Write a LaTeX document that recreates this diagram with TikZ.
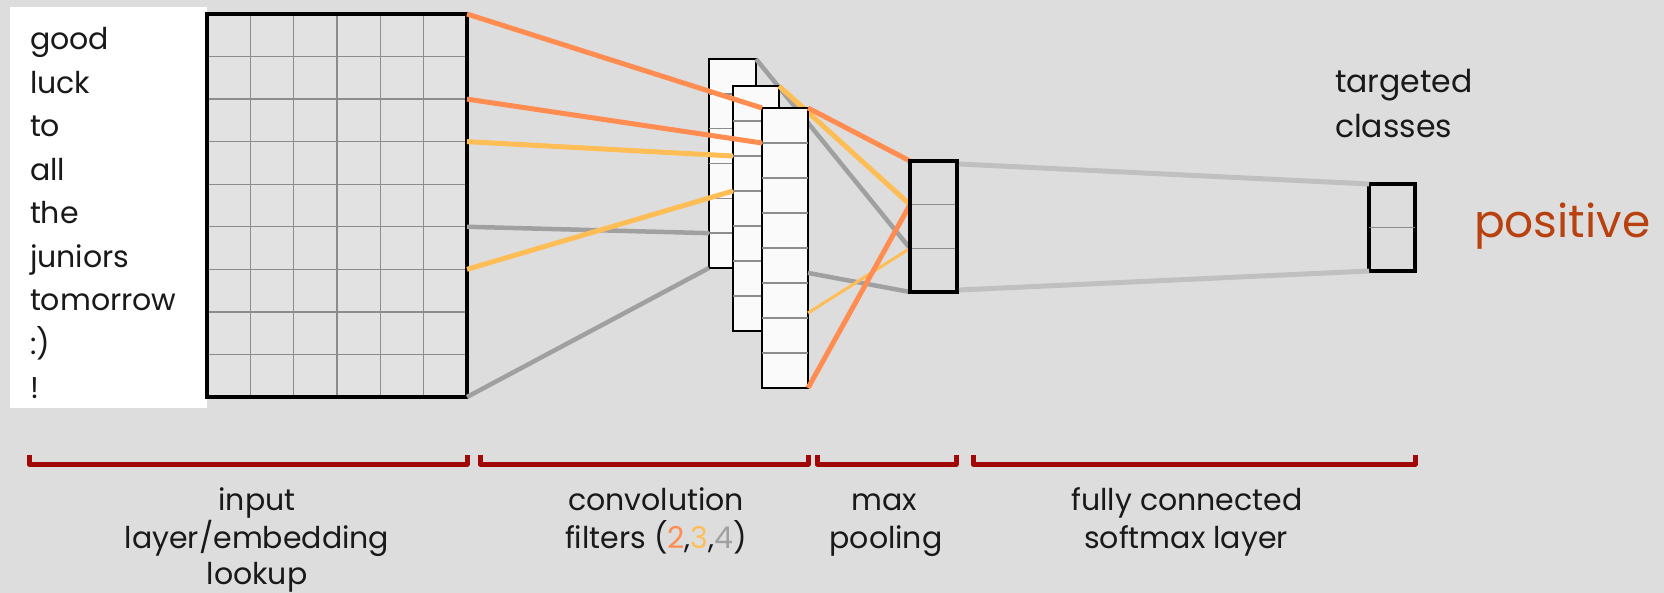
\documentclass[tikz,border=0pt]{standalone}
\usepackage{fontspec}
\setmainfont{Poppins}
\usetikzlibrary{calc}
\definecolor{bgc}{RGB}{221,221,221}
\definecolor{orangeL}{RGB}{255,140,80}
\definecolor{yellowL}{RGB}{255,190,85}
\definecolor{grayL}{RGB}{160,160,160}
\definecolor{grayR}{RGB}{192,192,192}
\definecolor{divc}{RGB}{140,140,140}
\definecolor{brk}{RGB}{160,8,8}
\definecolor{posc}{RGB}{185,65,15}
\begin{document}
\begin{tikzpicture}[x=1pt,y=-1pt,
  txt/.style={inner sep=0pt, outer sep=0pt, font=\fontsize{30}{36}\selectfont, text=black!90},
  word/.style={txt, anchor=base west},
  lbl/.style={txt, anchor=base},
  filt/.style={draw=black, line width=2.6pt, fill=white!98!black, inner sep=0pt, outer sep=0pt, anchor=north west},
  pool/.style={draw=black, line width=3.8pt, inner sep=0pt, outer sep=0pt, anchor=north west},
  div/.style={draw=divc, line width=1.4pt},
  gridl/.style={draw=divc, line width=1.3pt},
  conO/.style={draw=orangeL, line width=5pt},
  conY/.style={draw=yellowL, line width=5pt},
  conYt/.style={draw=yellowL, line width=3pt},
  conG/.style={draw=grayL, line width=4.5pt},
  conR/.style={draw=grayR, line width=5pt},
  brace/.style={draw=brk, line width=5pt, line join=round}
]
\useasboundingbox (0,0) rectangle (1664,593);
\fill[bgc] (0,0) rectangle (1664,593);

% word list
\node[fill=white, inner sep=0pt, outer sep=0pt, minimum width=197pt, minimum height=401pt, anchor=north west] (wordbox) at (10,7) {};
\foreach \w [count=\i from 0] in {good,luck,to,all,the,juniors,tomorrow,{:)},!}
  \node[word] (w\i) at (30,50+43.5*\i) {\w};

% embedding grid
\node[fill=white, fill opacity=0.15, inner sep=0pt, outer sep=0pt, minimum width=260pt, minimum height=383pt, anchor=north west] (grid) at (207,14) {};
\foreach \i in {1,...,5}
  \draw[gridl] ($(grid.north west)!\i/6!(grid.north east)$) -- ($(grid.south west)!\i/6!(grid.south east)$);
\foreach \i in {1,...,8}
  \draw[gridl] ($(grid.north west)!\i/9!(grid.south west)$) -- ($(grid.north east)!\i/9!(grid.south east)$);
\draw[line width=3.5pt] (grid.north west) rectangle (grid.south east);

% back filter
\node[filt, minimum width=47pt, minimum height=209pt] (back) at (709,59) {};
\foreach \i in {1,...,5}
  \draw[div] ($(back.north west)!\i/6!(back.south west)$) -- ($(back.north east)!\i/6!(back.south east)$);
% max pooling node (positions)
\node[pool, minimum width=47pt, minimum height=131pt] (pool) at (910,161) {};
\draw[conG] (back.north east) -- ($(pool.north west)!2/3!(pool.south west)$);

% middle filter
\node[filt, minimum width=46pt, minimum height=245pt] (mid) at (733,86) {};
\foreach \i in {1,...,6}
  \draw[div] ($(mid.north west)!\i/7!(mid.south west)$) -- ($(mid.north east)!\i/7!(mid.south east)$);
\draw[conY] (mid.north east) -- ($(pool.north west)!1/3!(pool.south west)$);

% left connectors
\draw[conG] ($(grid.north east)!5/9!(grid.south east)$) -- ($(back.north west)!5/6!(back.south west)$);
\draw[conG] (grid.south east) -- (back.south west);
\draw[conY] ($(grid.north east)!3/9!(grid.south east)$) -- ($(mid.north west)!2/7!(mid.south west)$);
\draw[conY] ($(grid.north east)!6/9!(grid.south east)$) -- ($(mid.north west)!3/7!(mid.south west)$);

% front filter
\node[filt, minimum width=46pt, minimum height=280pt] (front) at (762,108) {};
\foreach \i in {1,...,7}
  \draw[div] ($(front.north west)!\i/8!(front.south west)$) -- ($(front.north east)!\i/8!(front.south east)$);
\draw[conO] (grid.north east) -- (front.north west);
\draw[conO] ($(grid.north east)!2/9!(grid.south east)$) -- ($(front.north west)!1/8!(front.south west)$);

% right connectors from front filter
\draw[conO] (front.north east) -- (pool.north west);
\draw[conG] ($(front.north east)!0.589!(front.south east)$) -- (pool.south west);
\draw[conYt] ($(front.north east)!0.732!(front.south east)$) -- ($(pool.north west)!2/3!(pool.south west)$);
\draw[conO] (front.south east) -- ($(pool.north west)!1/3!(pool.south west)$);

% max pooling box on top
\foreach \i in {1,2}
  \draw[div] ($(pool.north west)!\i/3!(pool.south west)$) -- ($(pool.north east)!\i/3!(pool.south east)$);
\node[pool, minimum width=47pt, minimum height=131pt] at (910,161) {};

% output
\node[pool, line width=3.4pt, minimum width=46pt, minimum height=87pt] (out) at (1369,184) {};
\draw[div] (out.west) -- (out.east);
\draw[conR] ($(pool.north east)+(2,3)$) -- (out.north west);
\draw[conR] ($(pool.south east)+(2,-2)$) -- (out.south west);

\node[word, font=\fontsize{31.5}{36}\selectfont] (tg1) at (1335,93) {targeted};
\node[word, font=\fontsize{31.5}{36}\selectfont] (tg2) at (1335,138) {classes};
\node[txt, anchor=base west, text=posc, font=\fontsize{45.5}{52}\selectfont] (pos) at (1474,238) {positive};

% brackets
\draw[brace] (29,455) -- (29,464) -- (467,464) -- (467,455);
\draw[brace] (480,455) -- (480,464) -- (808,464) -- (808,455);
\draw[brace] (817,455) -- (817,464) -- (956,464) -- (956,455);
\draw[brace] (973,455) -- (973,464) -- (1415,464) -- (1415,455);

% labels
\node[lbl] (la1) at (257,510) {input};
\node[lbl] (la2) at (257,548) {layer/embedding};
\node[lbl] (la3) at (257,584) {lookup};
\node[lbl] (lb1) at (656,510) {convolution};
\node[lbl] (lb2) at (656,548) {filters (\textcolor{orangeL}{2},\textcolor{yellowL}{3},\textcolor{grayL}{4})};
\node[lbl] (lc1) at (884,510) {max};
\node[lbl] (lc2) at (886,548) {pooling};
\node[lbl] (ld1) at (1187,510) {fully connected};
\node[lbl] (ld2) at (1186,548) {softmax layer};
\end{tikzpicture}
\end{document}
